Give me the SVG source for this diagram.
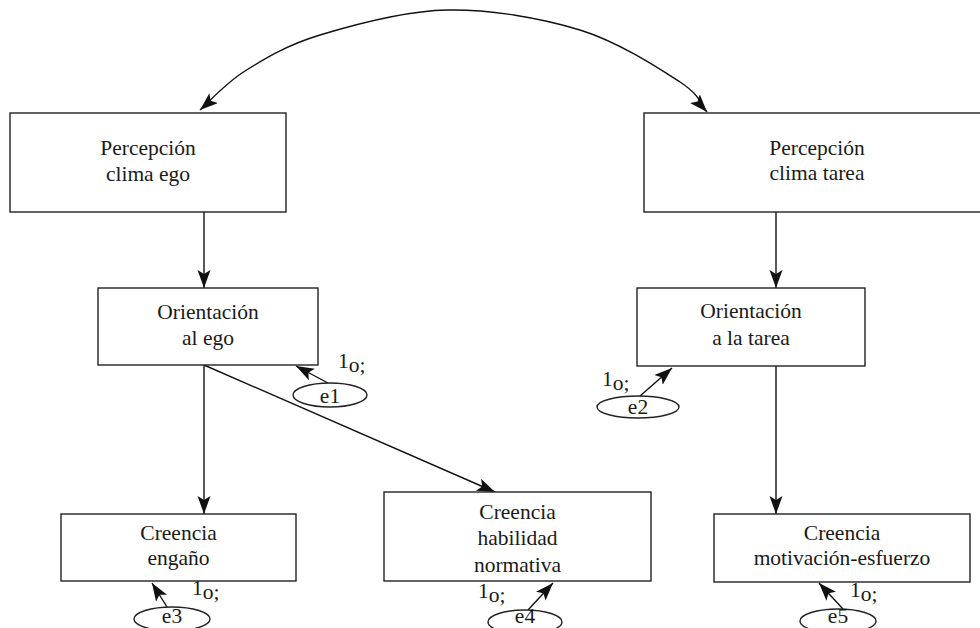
<svg xmlns="http://www.w3.org/2000/svg" width="980" height="628" viewBox="0 0 980 628">
<style>
.box{fill:#fff;stroke:#222;stroke-width:1.4}
.ell{fill:#fff;stroke:#222;stroke-width:1.4}
.t{font-family:"Liberation Serif","Times New Roman",serif;font-size:21.5px;fill:#1a1a1a;text-anchor:middle}
.s{font-family:"Liberation Serif","Times New Roman",serif;font-size:21.5px;fill:#1a1a1a}
.c{fill:none;stroke:#111;stroke-width:1.4;marker-end:url(#ah)}
</style>
<defs>
<marker id="ah" markerUnits="userSpaceOnUse" markerWidth="20" markerHeight="14" refX="18" refY="6.5" orient="auto-start-reverse">
<path d="M0,0 L18,6.5 L0,13 L4,6.5 z" fill="#111"/>
</marker>
</defs>
<rect width="980" height="628" fill="#fff"/>
<g id="connectors">
<path class="c" style="marker-start:url(#ah)" d="M200,110 C207.5,103.5 225,83.5 245,71 C265,58.5 286.3,45.2 320,35 C353.7,24.8 403.7,10.8 447,10 C490.3,9.2 541.2,18 580,30 C618.8,42 658.8,68.3 680,82 C701.2,95.7 702.5,107 707,112"/>
<line class="c" x1="204" y1="212" x2="204" y2="288"/>
<line class="c" x1="776" y1="212" x2="776" y2="288"/>
<line class="c" x1="204" y1="365" x2="204" y2="514"/>
<line class="c" x1="204" y1="365" x2="495" y2="492"/>
<line class="c" x1="776" y1="366" x2="776" y2="514"/>
<line class="c" x1="328" y1="383" x2="296" y2="366"/>
<line class="c" x1="640" y1="396" x2="672" y2="368"/>
<line class="c" x1="167" y1="607" x2="152" y2="583"/>
<line class="c" x1="528" y1="610" x2="553" y2="583"/>
<line class="c" x1="843" y1="609" x2="819" y2="583"/>
</g>
<g id="n_percepcion_ego">
<rect class="box" x="10" y="113" width="276" height="99"/>
<text class="t" x="148" y="155">Percepción</text>
<text class="t" x="148" y="181">clima ego</text>
</g>
<g id="n_percepcion_tarea">
<rect class="box" x="644" y="113" width="347" height="99"/>
<text class="t" x="817" y="155">Percepción</text>
<text class="t" x="817" y="180">clima tarea</text>
</g>
<g id="n_orientacion_ego">
<rect class="box" x="98" y="288" width="220" height="77"/>
<text class="t" x="208" y="319">Orientación</text>
<text class="t" x="208" y="345">al ego</text>
</g>
<g id="n_orientacion_tarea">
<rect class="box" x="637" y="288" width="228" height="78"/>
<text class="t" x="751" y="318">Orientación</text>
<text class="t" x="751" y="345">a la tarea</text>
</g>
<g id="n_creencia_engano">
<rect class="box" x="61" y="514" width="235" height="67"/>
<text class="t" x="178.5" y="540">Creencia</text>
<text class="t" x="178.5" y="565">engaño</text>
</g>
<g id="n_creencia_habilidad">
<rect class="box" x="384" y="492" width="267" height="89"/>
<text class="t" x="517.5" y="519">Creencia</text>
<text class="t" x="517.5" y="545">habilidad</text>
<text class="t" x="517.5" y="572">normativa</text>
</g>
<g id="n_creencia_motivacion">
<rect class="box" x="714" y="514" width="256" height="68"/>
<text class="t" x="842" y="540">Creencia</text>
<text class="t" x="842" y="565">motivación-esfuerzo</text>
</g>
<g id="n_e1">
<ellipse class="ell" cx="330" cy="395" rx="37" ry="12"/>
<text class="t" x="330" y="403">e1</text>
<text class="s" x="338" y="368">1<tspan dy="4">o;</tspan></text>
</g>
<g id="n_e2">
<ellipse class="ell" cx="638" cy="407" rx="41" ry="11"/>
<text class="t" x="638" y="414">e2</text>
<text class="s" x="602" y="386">1<tspan dy="4">o;</tspan></text>
</g>
<g id="n_e3">
<ellipse class="ell" cx="172" cy="619" rx="38" ry="12"/>
<text class="t" x="172" y="623">e3</text>
<text class="s" x="192" y="595">1<tspan dy="4">o;</tspan></text>
</g>
<g id="n_e4">
<ellipse class="ell" cx="525" cy="622" rx="37" ry="12"/>
<text class="t" x="525" y="623">e4</text>
<text class="s" x="478" y="598">1<tspan dy="4">o;</tspan></text>
</g>
<g id="n_e5">
<ellipse class="ell" cx="838" cy="621" rx="38" ry="12"/>
<text class="t" x="838" y="623">e5</text>
<text class="s" x="850" y="597">1<tspan dy="4">o;</tspan></text>
</g>
</svg>
